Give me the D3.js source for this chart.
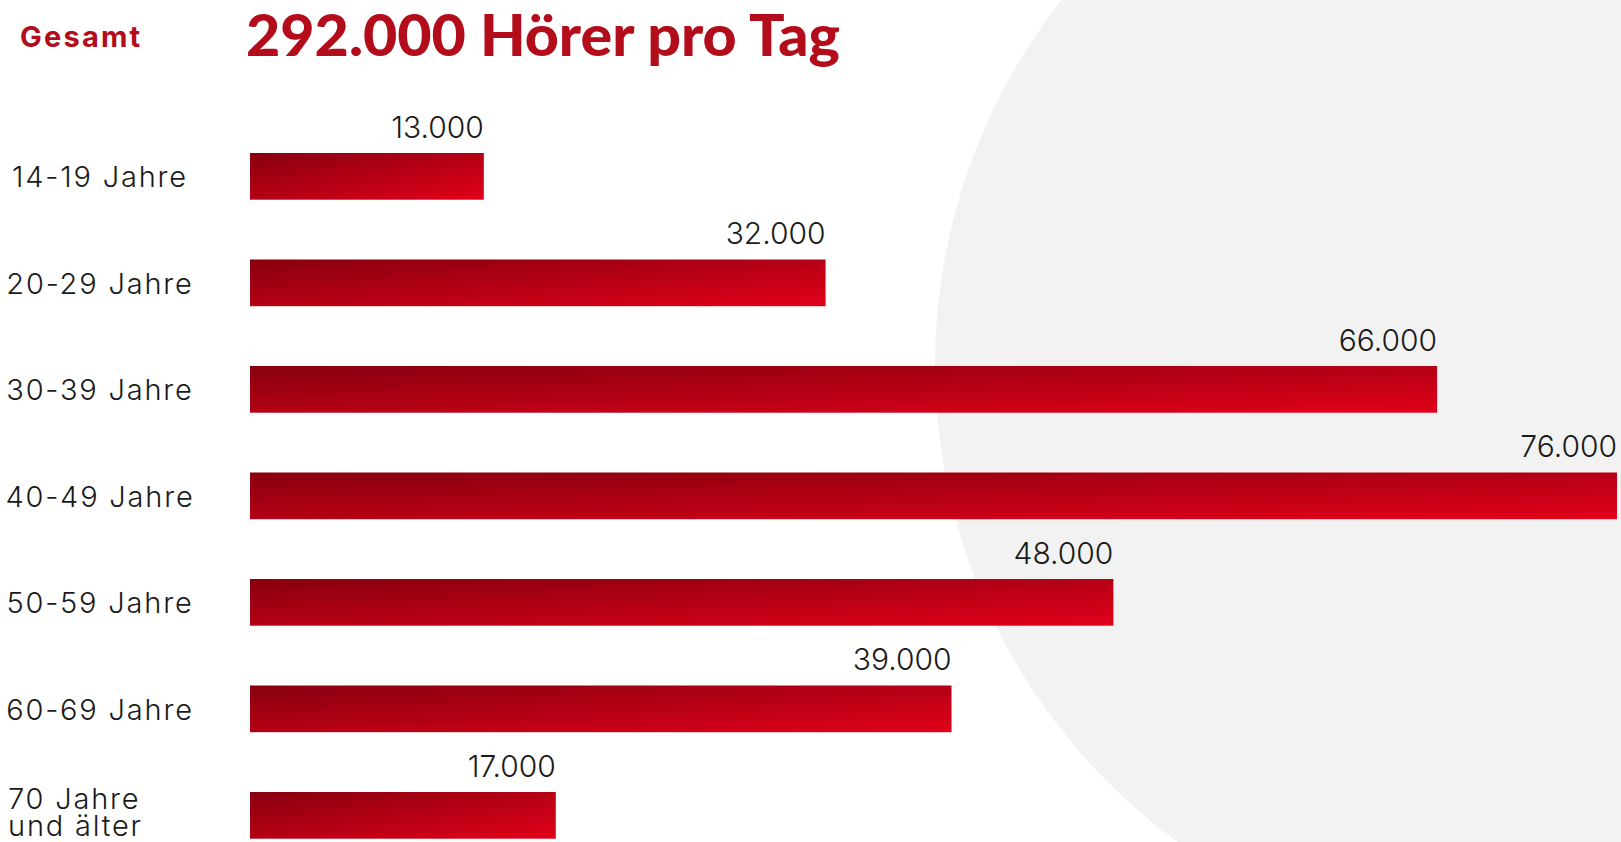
<!DOCTYPE html>
<html>
<head>
<meta charset="utf-8">
<script src="https://cdn.jsdelivr.net/npm/d3@7"></script>
<style>
  html, body { margin: 0; padding: 0; background: #ffffff; overflow: hidden; }
  svg { display: block; }
</style>
</head>
<body>
<svg id="plot"></svg>
<script>
// Chart data
const categories = ["14-19 Jahre", "20-29 Jahre", "30-39 Jahre", "40-49 Jahre",
    "50-59 Jahre", "60-69 Jahre", "70 Jahre\nund älter"];
const listeners = [13000, 32000, 66000, 76000, 48000, 39000, 17000];
const headerLabel = "Gesamt";
const titleText = "292.000 Hörer pro Tag";

const width = 1621, height = 842;
const svg = d3.select("#plot").attr("width", width).attr("height", height);

// Gradient for bars: dark red top-left to bright red bottom-right
const defs = svg.append("defs");
const grad = defs.append("linearGradient")
    .attr("id", "barGrad")
    .attr("x1", 0).attr("y1", 0).attr("x2", 1).attr("y2", 1);
grad.append("stop").attr("offset", "0%").attr("stop-color", "#87000f");
grad.append("stop").attr("offset", "100%").attr("stop-color", "#e2001a");

// Background grey circle on the right
svg.append("circle")
    .attr("cx", 1525).attr("cy", 365).attr("r", 590)
    .attr("fill", "#f2f2f2");

// Scales
const x = d3.scaleLinear().domain([0, 76000]).range([250, 1617]);
const y = d3.scaleBand()
    .domain(categories)
    .range([153, 838.7])
    .paddingInner(0.5615)
    .paddingOuter(0);

// Header
svg.append("text")
    .attr("x", 20).attr("y", 47)
    .attr("font-family", "Inter")
    .attr("font-weight", 700)
    .attr("font-size", 29)
    .attr("letter-spacing", 2.2)
    .attr("fill", "#b30d1b")
    .text(headerLabel);

svg.append("text")
    .attr("x", 246).attr("y", 56)
    .attr("font-family", "Lato")
    .attr("font-weight", 900)
    .attr("font-size", 58)
    .attr("textLength", 594)
    .attr("lengthAdjust", "spacingAndGlyphs")
    .attr("fill", "#b30d1b")
    .text(titleText);

// Bars
svg.append("g")
    .selectAll("rect")
    .data(listeners)
    .enter()
    .append("rect")
    .attr("x", x(0))
    .attr("y", (d, i) => y(categories[i]))
    .attr("width", d => x(d) - x(0))
    .attr("height", y.bandwidth())
    .attr("fill", "url(#barGrad)");

// Value labels above bar ends
const fmt = d3.formatLocale({ decimal: ",", thousands: ".", grouping: [3], currency: ["", "€"] }).format(",d");
svg.append("g")
    .selectAll("text")
    .data(listeners)
    .enter()
    .append("text")
    .attr("x", d => x(d))
    .attr("y", (d, i) => y(categories[i]) - 15)
    .attr("text-anchor", "end")
    .attr("font-family", "Inter")
    .attr("font-weight", 300)
    .attr("font-size", 30)
    .attr("fill", "#1a1a1a")
    .text(d => fmt(d));

// Category labels
const catG = svg.append("g");
categories.forEach((c, i) => {
    const lines = c.split("\n");
    const cy = y(c) + y.bandwidth() / 2;
    const t = catG.append("text")
        .attr("font-family", "Inter")
        .attr("font-weight", 300)
        .attr("font-size", 29)
        .attr("letter-spacing", 1.8)
        .attr("fill", "#1a1a1a");
    if (lines.length === 1) {
        t.attr("x", 100).attr("y", cy + 11).attr("text-anchor", "middle").text(c);
    } else {
        lines.forEach((l, k) => {
            t.append("tspan")
                .attr("x", 8)
                .attr("y", cy - 6 + k * 27)
                .text(l);
        });
    }
});
</script>
</body>
</html>
